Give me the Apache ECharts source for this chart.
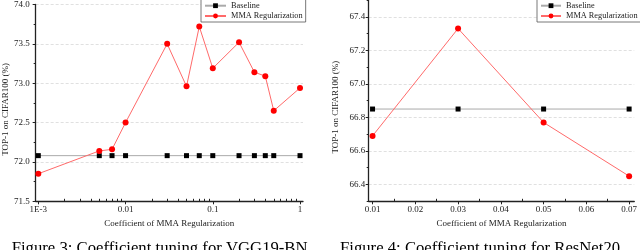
<!DOCTYPE html>
<html><head><meta charset="utf-8">
<script src="https://cdn.jsdelivr.net/npm/echarts@6/dist/echarts.min.js"></script>
<style>html,body{margin:0;padding:0;background:#fff}#c{width:640px;height:250px}</style>
</head><body><div id="c"></div>
<script>
// ---- Data: left chart (VGG19-BN) ----
const leftCoef = [0.001, 0.005, 0.007, 0.01, 0.03, 0.05, 0.07, 0.1, 0.2, 0.3, 0.4, 0.5, 1];
const leftMMA = [71.85, 72.14, 72.16, 72.50, 73.50, 72.96, 73.72, 73.19, 73.52, 73.14, 73.09, 72.65, 72.94];
const leftBaseline = [72.08, 72.08, 72.08, 72.08, 72.08, 72.08, 72.08, 72.08, 72.08, 72.08, 72.08, 72.08, 72.08];
const leftXTicks = [0.001, 0.01, 0.1, 1];
const leftXTickLabels = ['1E-3', '0.01', '0.1', '1'];
const leftXMinorTicks = [0.002, 0.003, 0.004, 0.005, 0.006, 0.007, 0.008, 0.009,
  0.02, 0.03, 0.04, 0.05, 0.06, 0.07, 0.08, 0.09,
  0.2, 0.3, 0.4, 0.5, 0.6, 0.7, 0.8, 0.9];
// ---- Data: right chart (ResNet20) ----
const rightCoef = [0.01, 0.03, 0.05, 0.07];
const rightMMA = [66.69, 67.33, 66.77, 66.45];
const rightBaseline = [66.85, 66.85, 66.85, 66.85];
const rightXTicks = [0.01, 0.02, 0.03, 0.04, 0.05, 0.06, 0.07];
const rightXTickLabels = ['0.01', '0.02', '0.03', '0.04', '0.05', '0.06', '0.07'];
const rightXMinorTicks = [0.015, 0.025, 0.035, 0.045, 0.055, 0.065];
const rightYTicks = [66.4, 66.6, 66.8, 67.0, 67.2, 67.4];
const rightYTickLabels = ['66.4', '66.6', '66.8', '67.0', '67.2', '67.4'];
const rightYMinorTicks = [66.3, 66.5, 66.7, 66.9, 67.1, 67.3, 67.5];

const seriesNames = ['Baseline', 'MMA Regularization'];
const xName = 'Coefficient of MMA Regularization';
const yName = 'TOP-1 on CIFAR100 (%)';
const captions = ['Figure 3: Coefficient tuning for VGG19-BN', 'Figure 4: Coefficient tuning for ResNet20'];

const FONT = "'Liberation Serif', 'Times New Roman', serif";
const AXIS_COLOR = '#222';
const TEXT_COLOR = '#222';

function pairs(xs, ys) { return xs.map((x, i) => [x, ys[i]]); }
function nearestLabel(v, ticks, labels, log) {
  let best = 0, bd = Infinity;
  ticks.forEach((t, i) => {
    const d = log ? Math.abs(Math.log10(t) - Math.log10(v)) : Math.abs(t - v);
    if (d < bd) { bd = d; best = i; }
  });
  return labels[best];
}

const axisLine = { show: true, onZero: false, lineStyle: { color: AXIS_COLOR, width: 1.3 } };
const labelStyle = { fontFamily: FONT, fontSize: 9, color: TEXT_COLOR };
const splitDash = { show: true, lineStyle: { color: '#d8d8d8', type: [3, 2], width: 0.8 } };
const nameStyle = { fontFamily: FONT, fontSize: 9, color: TEXT_COLOR };

function baseSeries(name, data, xi, yi) {
  return {
    name, type: 'line', xAxisIndex: xi, yAxisIndex: yi, data,
    symbol: 'rect', symbolSize: 5, silent: true, animation: false,
    itemStyle: { color: '#000' },
    lineStyle: { color: '#aaa', width: 1 }
  };
}
function mmaSeries(name, data, xi, yi) {
  return {
    name, type: 'line', xAxisIndex: xi, yAxisIndex: yi, data,
    symbol: 'circle', symbolSize: 6, silent: true, animation: false,
    itemStyle: { color: '#ff0000' },
    lineStyle: { color: '#ff6a6a', width: 1 }
  };
}
function legend(left, top, itemWidth) {
  return {
    orient: 'vertical', left, top, itemWidth, itemHeight: 6, itemGap: 0.3,
    padding: [2, 3, 1, 3], borderColor: '#555', borderWidth: 0.8, backgroundColor: '#fff',
    borderRadius: 0,
    textStyle: { fontFamily: FONT, fontSize: 8.3, color: TEXT_COLOR, lineHeight: 10 },
    data: seriesNames, selectedMode: false
  };
}

const option = {
  animation: false,
  backgroundColor: '#fff',
  grid: [
    { left: 34.3, right: 337, top: 0.5, bottom: 48.7 },
    { left: 368.7, right: 0.7, top: 0, bottom: 48.7 }
  ],
  legend: [legend(201, -1.3, 21), legend(537, -1.3, 20)],
  xAxis: [
    { type: 'log', logBase: 10, gridIndex: 0, position: 'bottom', min: 0.000932, max: 1.082,
      name: xName, nameLocation: 'middle', nameGap: 17, nameTextStyle: nameStyle,
      axisLine, splitLine: { show: false },
      axisTick: { show: true, inside: false, length: 3, customValues: leftXTicks, lineStyle: { color: AXIS_COLOR } },
      axisLabel: { show: true, margin: 4, ...labelStyle, customValues: leftXTicks,
        formatter: v => nearestLabel(v, leftXTicks, leftXTickLabels, true) } },
    { type: 'log', logBase: 10, gridIndex: 0, position: 'bottom', min: 0.000932, max: 1.082,
      axisLine: { show: false }, splitLine: { show: false }, axisLabel: { show: false },
      axisTick: { show: true, inside: true, length: 2.5, customValues: leftXMinorTicks, lineStyle: { color: AXIS_COLOR } } },
    { type: 'value', gridIndex: 1, position: 'bottom', min: 0.0091, max: 0.0712,
      name: xName, nameLocation: 'middle', nameGap: 17, nameTextStyle: nameStyle,
      axisLine, splitLine: { show: false },
      axisTick: { show: true, inside: false, length: 3, customValues: rightXTicks, lineStyle: { color: AXIS_COLOR } },
      axisLabel: { show: true, margin: 4, ...labelStyle, customValues: rightXTicks,
        formatter: v => nearestLabel(v, rightXTicks, rightXTickLabels, false) } },
    { type: 'value', gridIndex: 1, position: 'bottom', min: 0.0091, max: 0.0712,
      axisLine: { show: false }, splitLine: { show: false }, axisLabel: { show: false },
      axisTick: { show: true, inside: true, length: 2.5, customValues: rightXMinorTicks, lineStyle: { color: AXIS_COLOR } } }
  ],
  yAxis: [
    { type: 'value', gridIndex: 0, position: 'left', min: 71.5, max: 74.0, interval: 0.5,
      name: yName, nameLocation: 'middle', nameRotate: 90, nameGap: 24,
      nameTextStyle: { ...nameStyle, padding: [0, 13, 0, 0] },
      axisLine, splitLine: splitDash,
      axisTick: { show: true, inside: false, length: 3, lineStyle: { color: AXIS_COLOR } },
      minorTick: { show: true, splitNumber: 2, length: 2, lineStyle: { color: AXIS_COLOR } },
      axisLabel: { show: true, margin: 6, ...labelStyle, formatter: v => v.toFixed(1) } },
    { type: 'value', gridIndex: 1, position: 'left', min: 66.3, max: 67.5,
      name: yName, nameLocation: 'middle', nameRotate: 90, nameGap: 28.5,
      nameTextStyle: { ...nameStyle, padding: [0, 13, 0, 0] },
      axisLine, splitLine: splitDash,
      axisTick: { show: true, inside: false, length: 3, customValues: rightYTicks, lineStyle: { color: AXIS_COLOR } },
      axisLabel: { show: true, margin: 3.5, ...labelStyle, customValues: rightYTicks,
        formatter: v => nearestLabel(v, rightYTicks, rightYTickLabels, false) } },
    { type: 'value', gridIndex: 1, position: 'left', offset: 0, min: 66.3, max: 67.5,
      axisLine: { show: false }, splitLine: { show: false }, axisLabel: { show: false },
      axisTick: { show: true, inside: false, length: 2, customValues: rightYMinorTicks, lineStyle: { color: AXIS_COLOR } } }
  ],
  series: [
    baseSeries(seriesNames[0], pairs(leftCoef, leftBaseline), 0, 0),
    mmaSeries(seriesNames[1], pairs(leftCoef, leftMMA), 0, 0),
    baseSeries(seriesNames[0], pairs(rightCoef, rightBaseline), 2, 1),
    mmaSeries(seriesNames[1], pairs(rightCoef, rightMMA), 2, 1)
  ],
  graphic: [
    { type: 'text', left: 11.7, top: 240.5, silent: true,
      style: { text: captions[0], font: '16.7px ' + FONT, fill: '#000' } },
    { type: 'text', left: 340, top: 240.5, silent: true,
      style: { text: captions[1], font: '16.7px ' + FONT, fill: '#000' } }
  ]
};

const chart = echarts.init(document.getElementById('c'), null, { renderer: 'canvas' });
chart.setOption(option);
</script>
</body></html>
